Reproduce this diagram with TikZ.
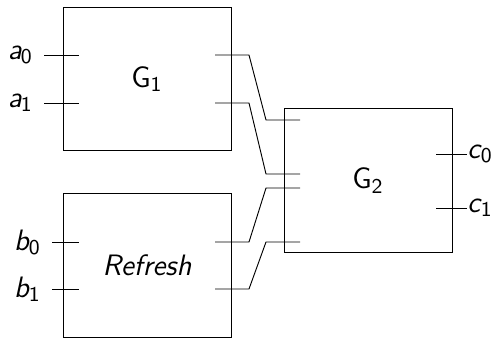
\documentclass[tikz,border=0pt]{standalone}
\usetikzlibrary{calc,positioning}

\begin{document}
\begin{tikzpicture}[
    x=0.015cm, y=-0.015cm,
    gate/.style={draw, minimum width=2.52cm, minimum height=2.15cm, inner sep=0pt, font=\sffamily\fontsize{12.6}{14}\selectfont},
    lbl/.style={inner sep=0pt, font=\sffamily\fontsize{12.6}{14}\selectfont},
    arr/.style={-}
]
    \useasboundingbox (0,0) rectangle (492,338);

    % Gates
    \node[gate] (g1) at (147,79) {G$_{\mathsf{1}}$};
    \node[gate] (rf) at (147,265.5) {\textit{Refresh}};
    \node[gate] (g2) at (368,180.5) {G$_{\mathsf{2}}$};

    % Input pins of G1 and Refresh
    \foreach \n/\x/\y in {a0/44/55, a1/44/103, b0/52/242, b1/52/289} {
        \coordinate (\n) at (\x,\y);
        \coordinate (\n-in) at (79,\y);
        \draw (\n) -- (\n-in);
    }
    \node[lbl, left=4.5pt of a0] (la0) {\textit{a}\kern-0.5pt$_{\mathsf{0}}$};
    \node[lbl, left=4.5pt of a1] (la1) {\textit{a}\kern-0.5pt$_{\mathsf{1}}$};
    \node[lbl, left=4.5pt of b0] (lb0) {\textit{b}\kern-0.5pt$_{\mathsf{0}}$};
    \node[lbl, left=4.5pt of b1] (lb1) {\textit{b}\kern-0.5pt$_{\mathsf{1}}$};

    % Output pins of G1 and Refresh
    \coordinate (g1-o0) at (215,55);
    \coordinate (g1-o1) at (215,103);
    \coordinate (rf-o0) at (215,242);
    \coordinate (rf-o1) at (215,289);

    % Input pins of G2
    \coordinate (g2-i0) at (300,120);
    \coordinate (g2-i1) at (300,174);
    \coordinate (g2-i2) at (300,188);
    \coordinate (g2-i3) at (300,242);

    % Wires into G2
    \draw[arr] (g1-o0) -- ++(34,0) -- ($(g2-i0)+(-34,0)$) -- (g2-i0);
    \draw[arr] (g1-o1) -- ++(34,0) -- ($(g2-i1)+(-34,0)$) -- (g2-i1);
    \draw[arr] (rf-o0) -- ++(34,0) -- ($(g2-i2)+(-34,0)$) -- (g2-i2);
    \draw[arr] (rf-o1) -- ++(34,0) -- ($(g2-i3)+(-34,0)$) -- (g2-i3);

    % Output pins of G2
    \coordinate (g2-o0) at (436,154);
    \coordinate (g2-o1) at (436,208);
    \coordinate (c0) at (467,154);
    \coordinate (c1) at (467,208);
    \draw (g2-o0) -- (c0);
    \draw (g2-o1) -- (c1);
    \node[lbl, right=0pt of c0] (lc0) {\textit{c}\kern-0.5pt$_{\mathsf{0}}$};
    \node[lbl, right=0pt of c1] (lc1) {\textit{c}\kern-0.5pt$_{\mathsf{1}}$};
\end{tikzpicture}
\end{document}
